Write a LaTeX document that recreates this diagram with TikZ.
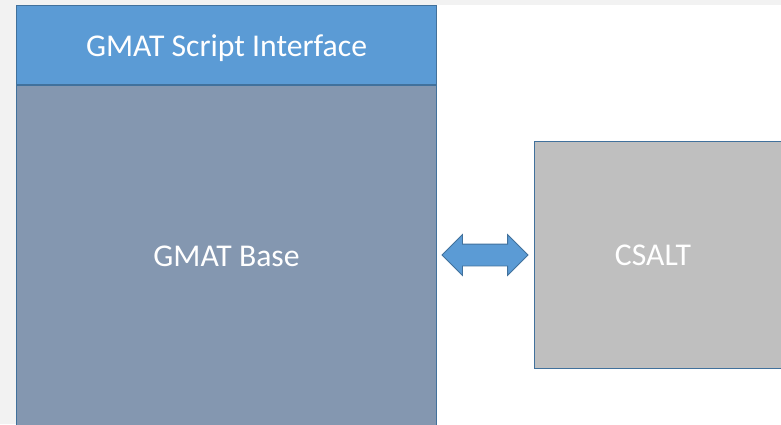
\documentclass[tikz,border=0pt]{standalone}
\usepackage{fontspec}
\setmainfont{Carlito}
\usepackage{tikz}
\usetikzlibrary{positioning,shapes.arrows}
\usepackage{xcolor}
\definecolor{hdrblue}{HTML}{5B9BD5}
\definecolor{baseslate}{HTML}{8497B0}
\definecolor{csgray}{HTML}{BFBFBF}
\definecolor{edgeblue}{HTML}{41719C}
\definecolor{pagegray}{HTML}{F2F2F2}

\begin{document}
\begin{tikzpicture}[x=1pt,y=-1pt,every node/.style={font=\fontsize{31.7}{38}\selectfont,text=white},
  blk/.style={draw=edgeblue,line width=1.1pt,inner sep=0pt}]
\useasboundingbox (0,0) rectangle (781,424);
\fill[pagegray] (0,0) rectangle (781,424);
\fill[white] (16,5) rectangle (781,424);
\node[blk,fill=hdrblue,anchor=north west,minimum width=420pt,minimum height=79pt,text depth=0pt,yshift=-0pt] (script) at (16,5) {\raisebox{-2pt}{GMAT Script Interface}};
\node[blk,fill=baseslate,below=-0.5pt of script,minimum width=420pt,minimum height=342pt] (base) {GMAT Base};
\node[blk,fill=csgray,anchor=north west,minimum width=270pt,minimum height=227pt] (csalt) at (534,141) {};
\node (csaltlbl) at (653,255) {CSALT};
\node[draw=edgeblue,fill=hdrblue,line width=0.8pt,double arrow,inner xsep=0pt,inner ysep=10.5pt,
  double arrow head extend=9.5pt,minimum height=86pt] (link) at (485,255) {};
\end{tikzpicture}
\end{document}
